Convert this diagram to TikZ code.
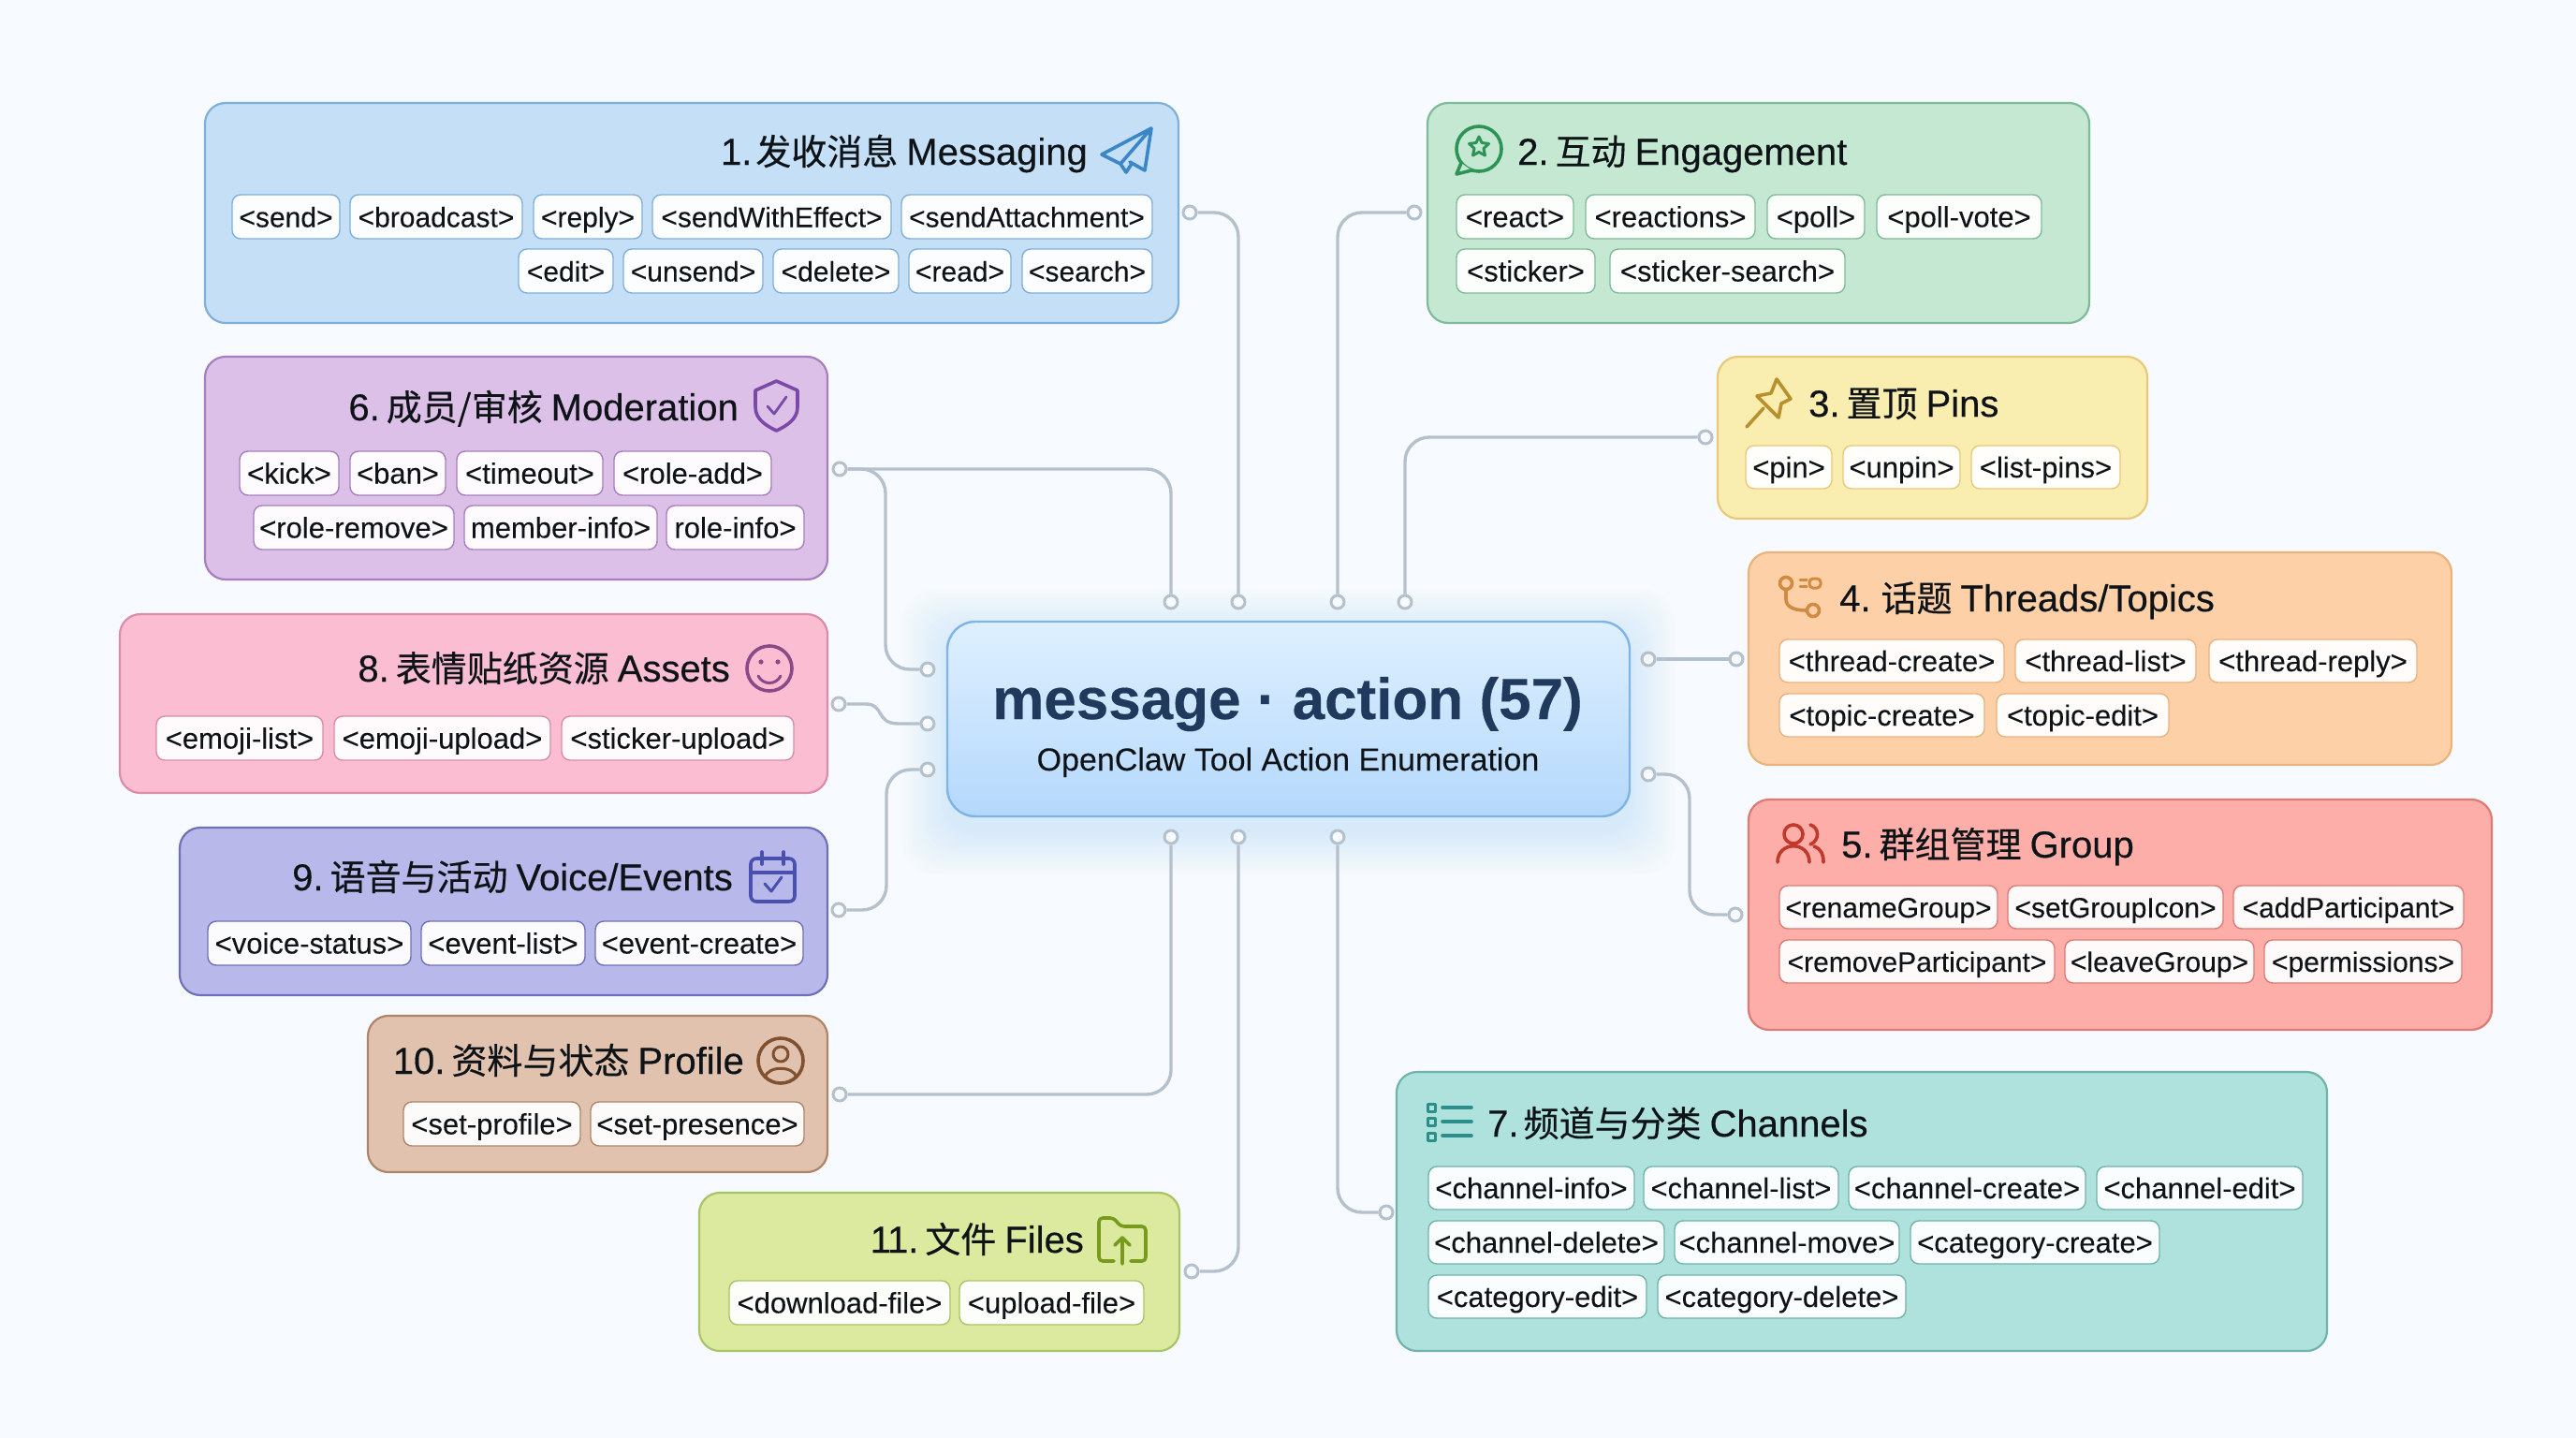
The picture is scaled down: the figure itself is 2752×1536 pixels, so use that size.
\documentclass[tikz,border=0pt]{standalone}
\usepackage{fontspec}
\setmainfont[BoldFeatures={FakeBold=0.3}]{Liberation Sans}
\newfontfamily\cjk[FakeBold=0.35]{Noto Sans CJK SC}
\newfontfamily\ttlatin[FakeBold=0.35]{Liberation Sans}
\newfontfamily\hubsubfont[FakeBold=0.12]{Liberation Sans}
\newfontfamily\chipfont[FakeBold=0.1]{Liberation Sans}
\definecolor{bgc}{HTML}{F7FAFE}
\definecolor{wirec}{HTML}{B5C0CD}
\definecolor{inkc}{HTML}{0E1318}
\definecolor{hubink}{HTML}{1F3A5C}
\definecolor{hubtop}{HTML}{DFF0FF}
\definecolor{hubbot}{HTML}{B4D8FC}
\definecolor{hubedge}{HTML}{7FB4E4}
\definecolor{glowc}{HTML}{8CC4FA}
\definecolor{f1}{HTML}{C5DFF7}\definecolor{s1}{HTML}{7FB0DC}\definecolor{i1}{HTML}{3A86C8}
\definecolor{f2}{HTML}{C5E8D2}\definecolor{s2}{HTML}{7FBB98}\definecolor{i2}{HTML}{2E9455}
\definecolor{f3}{HTML}{FAEDB0}\definecolor{s3}{HTML}{E8C97A}\definecolor{i3}{HTML}{B8912E}
\definecolor{f4}{HTML}{FDD0A8}\definecolor{s4}{HTML}{EAB27C}\definecolor{i4}{HTML}{D08A42}
\definecolor{f5}{HTML}{FDAEA8}\definecolor{s5}{HTML}{DD7A74}\definecolor{i5}{HTML}{C0392B}
\definecolor{f6}{HTML}{DCC0E8}\definecolor{s6}{HTML}{A77FC0}\definecolor{i6}{HTML}{7B4AA8}
\definecolor{f7}{HTML}{B0E2DD}\definecolor{s7}{HTML}{6FB3AC}\definecolor{i7}{HTML}{2A8F88}
\definecolor{f8}{HTML}{FBBDD2}\definecolor{s8}{HTML}{DC8BA8}\definecolor{i8}{HTML}{8A4A8A}
\definecolor{f9}{HTML}{B8B8EA}\definecolor{s9}{HTML}{6E70B8}\definecolor{i9}{HTML}{4A50B0}
\definecolor{f10}{HTML}{E0C2AE}\definecolor{s10}{HTML}{B08468}\definecolor{i10}{HTML}{80502F}
\definecolor{f11}{HTML}{DCEA9F}\definecolor{s11}{HTML}{A8C468}\definecolor{i11}{HTML}{7A9A1E}
\newcounter{chipn}
\tikzset{
  panelbox/.style={rounded corners=22pt,line width=2.2pt,inner sep=0pt},
  chipbox/.style={rounded corners=9pt,line width=1.4pt,inner sep=0pt,fill=white!94!curf,draw=curs,
    text=inkc,font=\chipfont\fontsize{31}{36}\selectfont,text height=22pt,text depth=0pt},
  titletext/.style={inner sep=0pt,text=inkc,font=\ttlatin\fontsize{40}{44}\selectfont},
  wire/.style={draw=wirec,line width=3.4pt,rounded corners=26pt},
  dotn/.style={circle,draw=wirec,fill=bgc,line width=3pt,minimum size=14pt,inner sep=0pt},
  iconl/.style={line width=3.6pt,line cap=round,line join=round},
}
\newcommand{\panelnode}[6]{\colorlet{curf}{f#6}\colorlet{curs}{s#6}
  \node[panelbox,fill=curf,draw=curs,minimum width={(#3-#2)*1pt},minimum height={(#5-#4)*1pt}] (#1) at ({(#2+#3)/2},{(#4+#5)/2}) {};}
\newcommand{\chipnode}[5]{\stepcounter{chipn}\edef\chipname{chip\arabic{chipn}}
  \node[chipbox,minimum width={(#2-#1)*1pt},minimum height={(#4-#3)*1pt}] (\chipname) at ({(#1+#2)/2},{(#3+#4)/2}) {#5};}
\newcommand{\smc}{\fontsize{30}{36}\selectfont}
\newcommand{\ttl}[3]{#1\hspace{7pt}{\cjk\fontsize{38}{44}\selectfont #2}\hspace{9pt}#3}
\begin{document}
\begin{tikzpicture}[x=1pt,y=-1pt]
\useasboundingbox (0,0) rectangle (2752,1536);
\fill[bgc] (0,0) rectangle (2752,1536);
% ---- hub glow
\foreach \i in {1,...,16}{\fill[glowc,opacity=0.016,rounded corners=34pt] ({1012-3*\i},{664+14-3*\i}) rectangle ({1741+3*\i},{872+14+3*\i});}
% ---- panels
\panelnode{b1}{219}{1259}{110}{345}{1}
\node[titletext,anchor=base east] (t1) at (1162,176) {\ttl{1.\kern-3pt}{发收消息}{Messaging}};
\chipnode{248}{363}{208}{255}{\smc <send>}
\chipnode{374}{558}{208}{255}{\smc <broadcast>}
\chipnode{570}{686}{208}{255}{\smc <reply>}
\chipnode{697}{952}{208}{255}{\smc <sendWithEffect>}
\chipnode{963}{1231}{208}{255}{\smc <sendAttachment>}
\chipnode{554}{655}{266}{313}{\smc <edit>}
\chipnode{666}{815}{266}{313}{\smc <unsend>}
\chipnode{826}{960}{266}{313}{\smc <delete>}
\chipnode{971}{1080}{266}{313}{\smc <read>}
\chipnode{1092}{1231}{266}{313}{\smc <search>}

\panelnode{b6}{219}{884}{381}{619}{6}
\node[titletext,anchor=base east] (t6) at (789,449) {\ttl{6.}{成员/审核}{Moderation}};
\chipnode{256}{362}{482}{529}{<kick>}
\chipnode{374}{476}{482}{529}{<ban>}
\chipnode{488}{644}{482}{529}{<timeout>}
\chipnode{656}{824}{482}{529}{<role-add>}
\chipnode{271}{485}{540}{587}{<role-remove>}
\chipnode{496}{702}{540}{587}{member-info>}
\chipnode{712}{859}{540}{587}{role-info>}

\panelnode{b8}{128}{884}{656}{847}{8}
\node[titletext,anchor=base east] (t8) at (780,728) {\ttl{8.}{表情贴纸资源}{Assets}};
\chipnode{167}{345}{765}{812}{<emoji-list>}
\chipnode{357}{588}{765}{812}{<emoji-upload>}
\chipnode{600}{848}{765}{812}{<sticker-upload>}

\panelnode{b9}{192}{884}{884}{1063}{9}
\node[titletext,anchor=base east] (t9) at (783,951) {\ttl{9.}{语音与活动}{Voice/Events}};
\chipnode{222}{439}{984}{1031}{<voice-status>}
\chipnode{450}{625}{984}{1031}{<event-list>}
\chipnode{636}{858}{984}{1031}{<event-create>}

\panelnode{b10}{393}{884}{1085}{1252}{10}
\node[titletext,anchor=base east] (t10) at (795,1147) {\ttl{10.}{资料与状态}{Profile}};
\chipnode{431}{620}{1177}{1224}{<set-profile>}
\chipnode{631}{859}{1177}{1224}{<set-presence>}

\panelnode{b11}{747}{1260}{1274}{1443}{11}
\node[titletext,anchor=base east] (t11) at (1158,1338) {\ttl{1\kern-4pt 1.}{文件}{Files}};
\chipnode{779}{1015}{1368}{1415}{<download-file>}
\chipnode{1025}{1222}{1368}{1415}{<upload-file>}

\panelnode{b2}{1525}{2232}{110}{345}{2}
\node[titletext,anchor=base west] (t2) at (1621,176) {\ttl{2.}{互动}{Engagement}};
\chipnode{1556}{1681}{208}{255}{<react>}
\chipnode{1694}{1875}{208}{255}{<reactions>}
\chipnode{1888}{1992}{208}{255}{<poll>}
\chipnode{2005}{2181}{208}{255}{<poll-vote>}
\chipnode{1556}{1704}{266}{313}{<sticker>}
\chipnode{1720}{1971}{266}{313}{<sticker-search>}

\panelnode{b3}{1835}{2294}{381}{554}{3}
\node[titletext,anchor=base west] (t3) at (1932,445) {\ttl{3.}{置顶}{Pins}};
\chipnode{1865}{1957}{476}{522}{<pin>}
\chipnode{1969}{2094}{476}{522}{<unpin>}
\chipnode{2106}{2265}{476}{522}{<list-pins>}

\panelnode{b4}{1868}{2619}{590}{817}{4}
\node[titletext,anchor=base west] (t4) at (1965,653) {\ttl{4.\kern4pt}{话题}{Threads/Topics}};
\chipnode{1901}{2141}{683}{729}{<thread-create>}
\chipnode{2153}{2346}{683}{729}{<thread-list>}
\chipnode{2360}{2582}{683}{729}{<thread-reply>}
\chipnode{1901}{2120}{741}{787}{<topic-create>}
\chipnode{2133}{2317}{741}{787}{<topic-edit>}

\panelnode{b5}{1868}{2662}{854}{1100}{5}
\node[titletext,anchor=base west] (t5) at (1967,916) {\ttl{5.}{群组管理}{Group}};
\chipnode{1901}{2134}{946}{992}{\smc <renameGroup>}
\chipnode{2145}{2375}{946}{992}{\smc <setGroupIcon>}
\chipnode{2386}{2632}{946}{992}{\smc <addParticipant>}
\chipnode{1901}{2195}{1004}{1050}{\smc <removeParticipant>}
\chipnode{2206}{2408}{1004}{1050}{\smc <leaveGroup>}
\chipnode{2419}{2630}{1004}{1050}{\smc <permissions>}

\panelnode{b7}{1492}{2486}{1145}{1443}{7}
\node[titletext,anchor=base west] (t7) at (1589,1214) {\ttl{7.\kern-2pt}{频道与分类}{Channels}};
\chipnode{1526}{1746}{1246}{1292}{<channel-info>}
\chipnode{1756}{1964}{1246}{1292}{<channel-list>}
\chipnode{1975}{2228}{1246}{1292}{<channel-create>}
\chipnode{2240}{2460}{1246}{1292}{<channel-edit>}
\chipnode{1526}{1778}{1304}{1350}{<channel-delete>}
\chipnode{1789}{2029}{1304}{1350}{<channel-move>}
\chipnode{2041}{2307}{1304}{1350}{<category-create>}
\chipnode{1526}{1759}{1362}{1408}{<category-edit>}
\chipnode{1771}{2036}{1362}{1408}{<category-delete>}

% ---- hub
\node[rounded corners=30pt,line width=2.4pt,draw=hubedge,top color=hubtop,bottom color=hubbot,
  minimum width=729pt,minimum height=208pt,inner sep=0pt] (hub) at (1376.5,768) {};
\node[anchor=base,inner sep=0pt,text=hubink,font=\fontsize{62}{70}\selectfont\bfseries] (hubtitle) at (1375.5,768) {message · action (57)};
\node[anchor=base,inner sep=0pt,text=inkc,font=\hubsubfont\fontsize{34}{40}\selectfont] (hubsub) at (1376,823) {OpenClaw Tool Action Enumeration};

% ---- port dots
\node[dotn] (ht1) at (1251,643) {};
\node[dotn] (ht2) at (1323,643) {};
\node[dotn] (ht3) at (1429,643) {};
\node[dotn] (ht4) at (1501,643) {};
\node[dotn] (hb1) at (1251,894) {};
\node[dotn] (hb2) at (1323,894) {};
\node[dotn] (hb3) at (1429,894) {};
\node[dotn] (hl1) at (991,715) {};
\node[dotn] (hl2) at (991,773) {};
\node[dotn] (hl3) at (991,822) {};
\node[dotn] (hr1) at (1761,704) {};
\node[dotn] (hr2) at (1761,827) {};
\node[dotn] (d1) at (1271,227) {};
\node[dotn] (d2) at (1511,227) {};
\node[dotn] (d3) at (1822,467) {};
\node[dotn] (d4) at (1855,704) {};
\node[dotn] (d5) at (1854,977) {};
\node[dotn] (d6) at (897,501) {};
\node[dotn] (d7) at (1481,1295) {};
\node[dotn] (d8) at (896,752) {};
\node[dotn] (d9) at (896,972) {};
\node[dotn] (d10) at (897,1169) {};
\node[dotn] (d11) at (1273,1358) {};
\coordinate (j6) at (946,600);
\coordinate (j9) at (947,900);
\coordinate (j5) at (1805,900);
\coordinate (j8a) at (925,752);
\coordinate (j8b) at (945,752);
\coordinate (j8c) at (935,773);
\coordinate (j8d) at (960,773);
% ---- connectors
\draw[wire] (d1.east) -| (ht2.north);
\draw[wire] (d2.west) -| (ht3.north);
\draw[wire] (d3.west) -| (ht4.north);
\draw[wire] (hr1.east) -- (d4.west);
\draw[wire] (hr2.east) -| (j5) |- (d5.west);
\draw[wire] (d6.east) -| (ht1.north);
\draw[wire] (d6.east) -| (j6) |- (hl1.west);
\draw[wire] (hb3.south) |- (d7.west);
\draw[wire,sharp corners] (d8.east) -- (j8a) .. controls (j8b) and (j8c) .. (j8d) -- (hl2.west);
\draw[wire] (d9.east) -| (j9) |- (hl3.west);
\draw[wire] (d10.east) -| (hb1.south);
\draw[wire] (d11.east) -| (hb2.south);

% ---- icons
% plane
\draw[iconl,i1] (1230,137) -- (1177,165) -- (1197,175) -- cycle (1230,137) -- (1223,182) -- (1207,173) (1197,175) -- (1203,184) -- (1209,175);
% speech bubble with star
\draw[iconl,i2] (1580,159) circle[radius=24];
\draw[iconl,i2,fill=f2] (1561,174) -- (1556,186) -- (1572,182);
\draw[iconl,i2,line width=3pt] (1580,146) -- (1583,152.5) -- (1590.5,153.5) -- (1585,158.5) -- (1586.5,166) -- (1580,162.5) -- (1573.5,166) -- (1575,158.5) -- (1569.5,153.5) -- (1577,152.5) -- cycle;
% pin
\draw[iconl,i3] (1866,456) -- (1884,436) (1898,405) -- (1913,426) -- (1903,431) -- (1900,446) -- (1877,423) -- (1892,420) -- cycle;
% threads
\draw[iconl,i4] (1908,623) circle[radius=6.5] (1937,652) circle[radius=6.5];
\draw[iconl,i4] (1908,630) -- (1908,640) .. controls (1908,648) and (1916,652) .. (1930,652);
\draw[iconl,i4,line width=3pt] (1923,619) -- (1930,619) (1923,626) -- (1930,626);
\draw[iconl,i4,line width=3pt,rounded corners=4pt] (1933,618) rectangle (1945,628);
% group
\draw[iconl,i5] (1916,891) circle[radius=10];
\draw[iconl,i5] (1899,921) .. controls (1899,898) and (1933,898) .. (1933,921);
\draw[iconl,i5] (1934,881) .. controls (1944,884) and (1944,898) .. (1934,902) (1938,904) .. controls (1946,907) and (1948,913) .. (1948,921);
% shield
\draw[iconl,i6] (829.5,407) -- (852,417) -- (852,435) .. controls (852,448) and (840,455) .. (829.5,460) .. controls (819,455) and (807,448) .. (807,435) -- (807,417) -- cycle;
\draw[iconl,i6,line width=2.8pt] (820,434) -- (827,442) -- (840,424);
% channel list
\draw[iconl,i7,line width=3pt] (1525,1179) rectangle (1533,1187) (1525,1194) rectangle (1533,1202) (1525,1210) rectangle (1533,1218);
\draw[iconl,i7] (1541,1183) -- (1572,1183) (1541,1198) -- (1572,1198) (1541,1213) -- (1572,1213);
% smiley
\draw[iconl,i8] (822,714) circle[radius=24];
\fill[i8] (813,707) circle[radius=2.6] (831,707) circle[radius=2.6];
\draw[iconl,i8,line width=3pt] (810,722) .. controls (815,732) and (829,732) .. (834,722);
% calendar
\draw[iconl,i9,rounded corners=6pt] (802,917) rectangle (849,963);
\draw[iconl,i9] (802,932) -- (849,932) (814,910) -- (814,923) (837,910) -- (837,923);
\draw[iconl,i9,line width=3pt] (817,944) -- (824,952) -- (835,937);
% profile
\draw[iconl,i10] (834,1133) circle[radius=24];
\draw[iconl,i10,line width=3pt] (834,1126) circle[radius=8];
\draw[iconl,i10,line width=3pt] (817,1151) .. controls (820,1138) and (848,1138) .. (851,1151);
% folder
\draw[iconl,i11,rounded corners=4pt] (1190,1347) -- (1174,1347) -- (1174,1301) -- (1190,1301) -- (1197,1310) -- (1224,1310) -- (1224,1347) -- (1208,1347);
\draw[iconl,i11] (1199,1350) -- (1199,1322) (1191,1330) -- (1199,1322) -- (1207,1330);
\end{tikzpicture}
\end{document}
